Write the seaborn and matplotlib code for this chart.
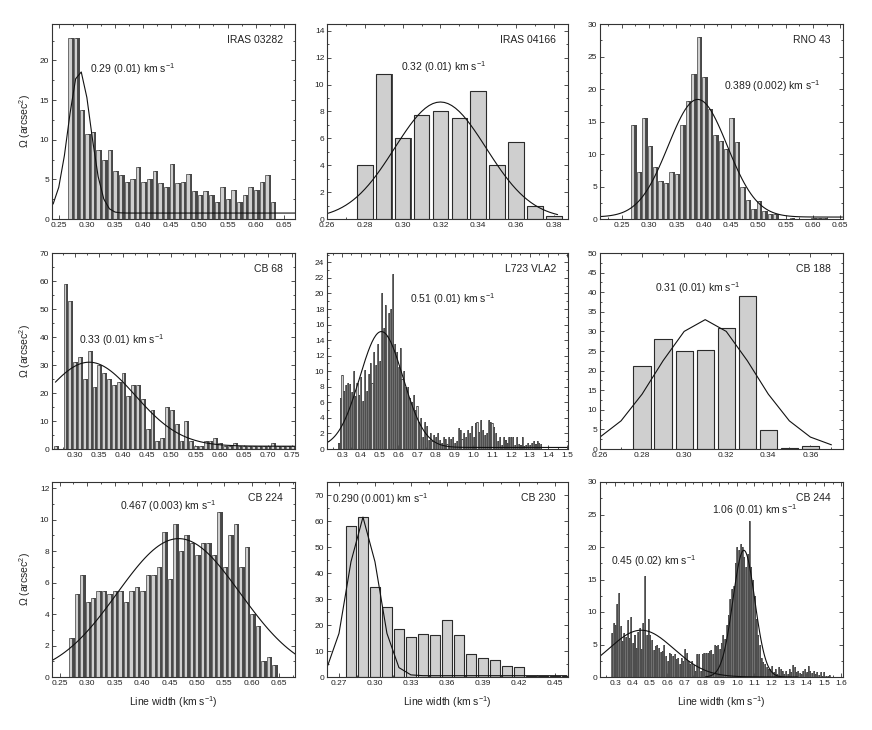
import numpy as np
import matplotlib
matplotlib.use("Agg")
import matplotlib.pyplot as plt
import matplotlib.transforms as mtransforms
from matplotlib.ticker import MultipleLocator, FormatStrFormatter
import seaborn as sns

BIN = 0.01  # all histograms use 0.01 km/s bins

# --- bar heights, Omega (arcsec^2); *_start is the first bin centre (km/s) ---
iras03282_start = 0.27
iras03282_h = [22.8, 22.8, 13.7, 10.7, 11.0, 8.7, 7.5, 8.7, 6.0, 5.5,
               4.7, 5.0, 6.5, 4.7, 5.0, 6.0, 4.5, 4.0, 7.0, 4.5,
               4.7, 5.7, 3.5, 3.0, 3.5, 3.0, 2.2, 4.0, 2.5, 3.7,
               2.2, 3.0, 4.0, 3.7, 4.7, 5.5, 2.2]

iras04166_start = 0.28
iras04166_h = [4.0, 10.75, 6.0, 7.75, 8.0, 7.5, 9.5, 4.0, 5.75, 1.0, 0.25]

rno43_start = 0.27
rno43_h = [14.5, 7.3, 15.5, 11.3, 8.0, 5.8, 5.5, 7.3, 7.0, 14.5,
           18.2, 22.3, 28.0, 21.8, 17.0, 13.0, 12.0, 10.8, 15.5, 11.8,
           5.0, 3.0, 1.5, 2.8, 1.3, 0.8, 0.8, 0, 0, 0.2,
           0, 0, 0, 0.2, 0.2, 0.2]

cb68_start = 0.26
cb68_h = [1, 0, 59, 53, 31, 33, 25, 35, 22, 30,
          27, 25, 23, 24, 27, 19, 23, 23, 18, 7,
          14, 3, 4, 15, 14, 9, 3, 10, 3, 1,
          1, 3, 3, 4, 2, 1, 1, 2, 1, 1,
          1, 1, 1, 1, 1, 2, 1, 1, 1, 1]

l723_start = 0.28
l723_h = [0.8, 6.5, 9.5, 7.5, 8.2, 8.5, 8.3, 7.3, 10.0, 6.8,
          8.5, 7.0, 9.2, 6.2, 10.2, 7.5, 9.6, 11.0, 8.5, 12.5,
          10.8, 13.5, 11.3, 20.0, 15.5, 18.5, 14.5, 17.5, 18.0, 22.5,
          13.5, 12.5, 10.5, 13.0, 9.0, 10.0, 8.0, 8.0, 6.5, 6.0,
          7.0, 5.0, 5.5, 3.5, 4.0, 1.5,
          3.5, 3.0, 1.2, 2.0, 1.0, 1.8, 1.5, 2.0, 1.2, 0.8,
          1.5, 1.3, 0.6, 1.5, 1.3, 1.5, 0.8, 1.0, 2.7, 2.5,
          1.3, 2.0, 1.5, 2.5, 2.0, 3.0, 1.5, 3.3, 3.5, 2.2,
          3.7, 2.5, 1.8, 2.0, 3.7, 3.5, 3.3, 2.8, 2.0, 1.0,
          1.6, 0.5, 1.5, 1.2, 0.8, 1.5, 1.5, 1.5, 0.5, 1.5,
          0.6, 0.5, 1.5, 0.4, 0.5, 0.8, 0.5, 0.8, 1.0, 0.6,
          1.0, 0.8, 0.6]

cb188_start = 0.28
cb188_h = [21.3, 28.0, 25.0, 25.2, 30.8, 39.0, 4.8, 0.3, 0.8]

cb224_start = 0.27
cb224_h = [2.5, 5.25, 6.5, 4.75, 5.0, 5.5, 5.5, 5.25, 5.5, 5.5,
           4.75, 5.5, 5.75, 5.5, 6.5, 6.5, 7.0, 9.25, 6.25, 9.75,
           8.0, 9.0, 8.5, 7.75, 8.5, 8.5, 7.75, 10.5, 7.0, 9.0,
           9.75, 7.0, 8.25, 4.0, 3.25, 1.0, 1.25, 0.75]

cb230_start = 0.28
cb230_h = [58, 61.5, 34.5, 27, 18.5, 15.2, 16.5, 16.2, 22, 16.2,
           8.7, 7.3, 6.7, 4.3, 3.8, 0.4, 0.3, 0.3, 0.3]

cb244_start = 0.28
cb244_h = [6.8, 8.3, 8.0, 11.3, 13.0, 7.8, 5.5, 6.8, 6.2, 8.8,
           6.0, 9.3, 5.3, 6.5, 4.5, 7.0, 7.5, 4.3, 8.3, 15.5,
           6.5, 9.0, 6.5, 5.7, 4.2, 4.7, 5.0, 4.5, 3.8, 4.0,
           5.0, 3.3, 2.5, 3.7, 3.5, 3.3, 3.5, 2.8, 3.0, 2.0,
           3.0, 2.5, 4.3, 3.7, 2.5, 2.0, 2.5, 1.8, 1.0, 3.5,
           3.5, 1.0, 3.5, 3.7, 3.7, 3.7, 4.0, 4.2, 3.5, 5.0,
           4.8, 5.0, 4.3, 5.3, 6.5, 5.8, 8.0, 9.5, 12.0, 13.5,
           14.0, 17.5, 20.0, 19.5, 20.5, 20.0, 18.5, 17.0, 19.0, 24.0,
           17.0, 15.0, 12.5, 9.0, 6.5, 5.0, 3.0, 2.3, 2.0, 1.6,
           1.2, 1.3, 1.7, 0.8, 1.2, 0.5, 1.5, 1.2, 1.0, 0.4,
           1.0, 0.4, 1.2, 0.8, 1.8, 1.5, 0.8, 1.0, 0.6, 0.4,
           1.0, 1.2, 0.8, 1.7, 1.0, 0.6, 1.0, 0.5, 0.8, 0.3,
           0.8, 0.2, 0.8, 0.2, 0.1, 0.3]

# Gaussian fits:
# (centre, sigma, amplitude, offset, x from, x to, sampling step)
iras03282_fit = [(0.287, 0.020, 18.0, 0.75, 0.24, 0.67, 0.01)]
iras04166_fit = [(0.320, 0.0242, 8.7, 0.0, 0.26, 0.3825, 0.002)]
rno43_fit = [(0.389, 0.054, 18.1, 0.3, 0.21, 0.655, 0.004)]
cb68_fit = [(0.330, 0.095, 30.0, 1.0, 0.26, 0.755, 0.005)]
l723_fit = [(0.510, 0.115, 14.9, 0.2, 0.22, 1.50, 0.005)]
cb188_fit = [(0.310, 0.0229, 33.0, 0.0, 0.26, 0.375, 0.01)]
cb224_fit = [(0.467, 0.112, 8.8, 0.0, 0.235, 0.68, 0.005)]
cb230_fit = [(0.290, 0.0123, 61.0, 0.5, 0.26, 0.46, 0.01)]
cb244_fit = [(0.450, 0.186, 7.2, 0.0, 0.21, 1.25, 0.005),
             (1.040, 0.063, 19.5, 0.0, 0.82, 1.35, 0.005)]

# fit labels: (text, x frac, y frac)
iras03282_notes = [("0.29 (0.01) km s$^{-1}$", 0.158, 0.77)]
iras04166_notes = [("0.32 (0.01) km s$^{-1}$", 0.308, 0.78)]
rno43_notes = [("0.389 (0.002) km s$^{-1}$", 0.51, 0.68)]
cb68_notes = [("0.33 (0.01) km s$^{-1}$", 0.112, 0.555)]
l723_notes = [("0.51 (0.01) km s$^{-1}$", 0.343, 0.765)]
cb188_notes = [("0.31 (0.01) km s$^{-1}$", 0.225, 0.82)]
cb224_notes = [("0.467 (0.003) km s$^{-1}$", 0.28, 0.875)]
cb230_notes = [("0.290 (0.001) km s$^{-1}$", 0.02, 0.91)]
cb244_notes = [("1.06 (0.01) km s$^{-1}$", 0.459, 0.855),
               ("0.45 (0.02) km s$^{-1}$", 0.046, 0.595)]

sns.set_theme(style="ticks")
plt.rcParams["font.family"] = ["Liberation Sans", "DejaVu Sans"]
plt.rcParams["mathtext.fontset"] = "custom"
plt.rcParams["mathtext.rm"] = "Liberation Sans"
plt.rcParams["mathtext.it"] = "Liberation Sans:italic"
plt.rcParams["mathtext.bf"] = "Liberation Sans:bold"

LIGHT = "#cfcfcf"
DARK = "#484848"
EDGE = "#2b2b2b"

fig = plt.figure(figsize=(8.72, 7.30), dpi=100)
W, H = 872, 730
cols = [(52, 295), (327, 568), (600, 843)]
rows = [(24, 219), (253, 449), (482, 677)]


def make_ax(r, c):
    (l, rr), (t, b) = cols[c], rows[r]
    return fig.add_axes([l / W, 1 - b / H, (rr - l) / W, (b - t) / H])


def draw_bars(ax, start, heights, kind, xlim):
    centres = np.round(start + BIN * np.arange(len(heights)), 3)
    ax_w = ax.get_position().width * W
    step_px = BIN / (xlim[1] - xlim[0]) * ax_w
    if kind == "wide":
        width, shift, lw = 0.82, 1.2, 0.8
    else:
        width, shift, lw = 0.58, 0.42 * step_px, 0.45
    n0 = len(ax.patches)
    # dark "shadow" bars, pushed a little to the right
    sns.barplot(x=centres, y=heights, orient="x", native_scale=True, width=width,
                color=DARK, saturation=1, errorbar=None, linewidth=0, ax=ax)
    off = mtransforms.ScaledTranslation(shift / 100, 0, fig.dpi_scale_trans)
    for p in ax.patches[n0:]:
        p.set_transform(ax.transData + off)
    sns.barplot(x=centres, y=heights, orient="x", native_scale=True, width=width,
                color=LIGHT, saturation=1, errorbar=None, edgecolor=EDGE,
                linewidth=lw, ax=ax)


def draw_fits(ax, fits):
    for xc, sig, amp, y0, lo, hi, step in fits:
        xs = np.arange(lo, hi + 1e-9, step)
        ys = y0 + amp * np.exp(-(xs - xc) ** 2 / (2 * sig ** 2))
        sns.lineplot(x=xs, y=ys, color="#111111", lw=0.8, ax=ax)


panels = [
    (0, 0, "IRAS 03282", iras03282_start, iras03282_h, "thin", iras03282_fit, iras03282_notes,
     (0.238, 0.67), (0, 24.6), 0.05, 5, "%.2f"),
    (0, 1, "IRAS 04166", iras04166_start, iras04166_h, "wide", iras04166_fit, iras04166_notes,
     (0.26, 0.3875), (0, 14.5), 0.02, 2, "%.2f"),
    (0, 2, "RNO 43", rno43_start, rno43_h, "thin", rno43_fit, rno43_notes,
     (0.21, 0.655), (0, 30), 0.05, 5, "%.2f"),
    (1, 0, "CB 68", cb68_start, cb68_h, "thin", cb68_fit, cb68_notes,
     (0.253, 0.756), (0, 70), 0.05, 10, "%.2f"),
    (1, 1, "L723 VLA2", l723_start, l723_h, "thin", l723_fit, l723_notes,
     (0.22, 1.505), (0, 25.2), 0.1, 2, "%.1f"),
    (1, 2, "CB 188", cb188_start, cb188_h, "wide", cb188_fit, cb188_notes,
     (0.26, 0.3755), (0, 50), 0.02, 5, "%.2f"),
    (2, 0, "CB 224", cb224_start, cb224_h, "thin", cb224_fit, cb224_notes,
     (0.236, 0.679), (0, 12.4), 0.05, 2, "%.2f"),
    (2, 1, "CB 230", cb230_start, cb230_h, "wide", cb230_fit, cb230_notes,
     (0.26, 0.461), (0, 75), 0.03, 10, "%.2f"),
    (2, 2, "CB 244", cb244_start, cb244_h, "thin", cb244_fit, cb244_notes,
     (0.213, 1.61), (0, 30), 0.1, 5, "%.1f"),
]

for r, c, name, start, heights, kind, fits, notes, xlim, ylim, xmaj, ymaj, xfmt in panels:
    ax = make_ax(r, c)
    draw_bars(ax, start, heights, kind, xlim)
    draw_fits(ax, fits)
    ax.set_xlim(*xlim)
    ax.set_ylim(*ylim)
    ax.xaxis.set_major_locator(MultipleLocator(xmaj))
    ax.xaxis.set_minor_locator(MultipleLocator(xmaj / 2))
    ax.yaxis.set_major_locator(MultipleLocator(ymaj))
    ax.yaxis.set_minor_locator(MultipleLocator(ymaj / 2))
    ax.xaxis.set_major_formatter(FormatStrFormatter(xfmt))
    ax.tick_params(which="both", direction="in", top=True, right=True,
                   labelsize=6, width=0.6, color="#333333", labelcolor="#222222", pad=2)
    ax.tick_params(which="major", length=3)
    ax.tick_params(which="minor", length=1.6)
    for s in ax.spines.values():
        s.set_linewidth(0.8)
        s.set_color("#333333")
    ax.set_xlabel("")
    ax.set_ylabel("")
    ax.text(0.95, 0.92, name, transform=ax.transAxes, ha="right", va="center",
            fontsize=7.5, color="#222222")
    for txt, fx, fy in notes:
        ax.text(fx, fy, txt, transform=ax.transAxes, ha="left", va="center",
                fontsize=7.5, color="#222222")
    if c == 0:
        ax.set_ylabel("$\\Omega$ (arcsec$^2$)", fontsize=7.5, color="#222222", labelpad=5)
    if r == 2:
        ax.set_xlabel("Line width (km s$^{-1}$)", fontsize=7.5, color="#222222", labelpad=5)

fig.savefig("out.png", dpi=100)
